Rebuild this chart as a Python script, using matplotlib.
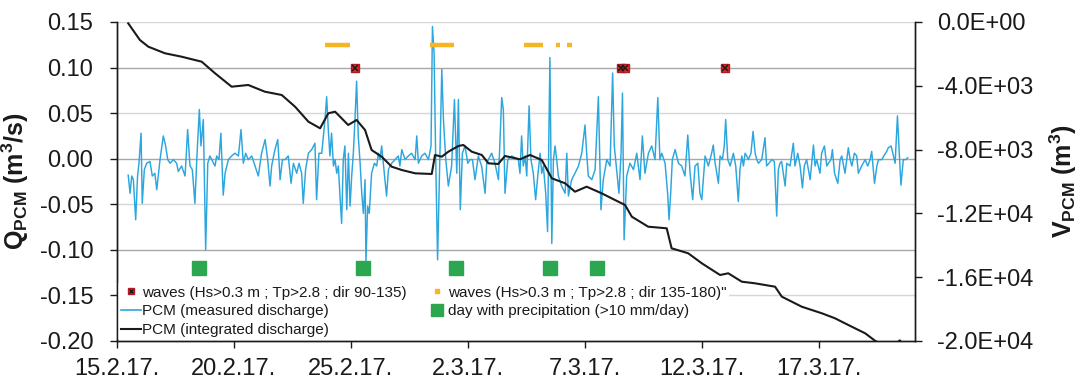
import matplotlib
matplotlib.use('Agg')
import matplotlib.pyplot as plt
from matplotlib.lines import Line2D
from matplotlib.ticker import FuncFormatter, FormatStrFormatter

plt.rcParams['font.family'] = 'Liberation Sans'
plt.rcParams['mathtext.fontset'] = 'custom'
plt.rcParams['mathtext.rm'] = 'Liberation Sans'
plt.rcParams['mathtext.it'] = 'Liberation Sans:italic'
plt.rcParams['mathtext.bf'] = 'Liberation Sans:bold'

# x axis: days since 15.2.2017
tick_days = [0, 5, 10, 15, 20, 25, 30]
tick_labels = ['15.2.17.', '20.2.17.', '25.2.17.', '2.3.17.', '7.3.17.', '12.3.17.', '17.3.17.']

# PCM measured discharge (m3/s)
q_days = [
    0.48, 0.56, 0.63, 0.70, 0.80, 0.88, 0.94, 1.03, 1.08, 1.17,
    1.27, 1.41, 1.51, 1.62, 1.70, 1.84, 1.98, 2.08, 2.17, 2.27,
    2.41, 2.55, 2.62, 2.76, 2.91, 3.02, 3.12, 3.22, 3.33, 3.41,
    3.52, 3.59, 3.69, 3.79, 3.88, 3.97, 4.05, 4.19, 4.26, 4.36,
    4.44, 4.54, 4.62, 4.76, 4.90, 5.04, 5.19, 5.30, 5.40, 5.50,
    5.61, 5.76, 5.90, 6.04, 6.18, 6.33, 6.44, 6.54, 6.61, 6.75,
    6.87, 6.97, 7.07, 7.18, 7.32, 7.44, 7.54, 7.68, 7.78, 7.89,
    7.96, 8.06, 8.18, 8.32, 8.46, 8.53, 8.63,
    8.75, 8.82, 8.89, 8.96, 9.03, 9.10, 9.17, 9.25, 9.32, 9.39,
    9.46, 9.53, 9.60, 9.67, 9.74, 9.82, 9.89, 9.96, 10.03, 10.10,
    10.17, 10.24, 10.31, 10.39, 10.46, 10.53, 10.60, 10.64, 10.71, 10.78,
    10.88, 11.00, 11.10, 11.17, 11.24, 11.31, 11.38, 11.45, 11.52, 11.60,
    11.67, 11.74, 11.88, 12.02, 12.09, 12.17, 12.31, 12.45, 12.59, 12.74,
    12.81, 12.88, 13.02, 13.16, 13.31, 13.42, 13.48, 13.55, 13.62, 13.70,
    13.80, 13.88, 13.95, 14.05, 14.16, 14.30, 14.42, 14.52, 14.59, 14.67,
    14.76, 14.87, 14.99, 15.09, 15.19, 15.30, 15.44, 15.58, 15.73, 15.80,
    15.87, 16.01, 16.15, 16.30, 16.44, 16.51, 16.58, 16.70, 16.87, 17.01,
    17.15,
    17.22, 17.29, 17.36, 17.44, 17.51, 17.61, 17.69, 17.79, 17.89, 17.98,
    18.08, 18.15, 18.22, 18.32, 18.40, 18.50, 18.58, 18.65, 18.72, 18.79,
    18.86, 19.00, 19.15, 19.22, 19.29, 19.43, 19.57, 19.72, 19.86, 20.00,
    20.07, 20.14, 20.29, 20.43, 20.57, 20.68, 20.78, 20.93, 21.07, 21.18,
    21.25, 21.35, 21.45, 21.54, 21.60, 21.67, 21.78, 21.92, 22.07, 22.21,
    22.35, 22.45, 22.56, 22.71, 22.85, 22.99, 23.11, 23.20, 23.28, 23.42,
    23.53, 23.59, 23.66, 23.73, 23.85, 23.99, 24.13, 24.27, 24.39, 24.49,
    24.60, 24.70, 24.82, 24.91, 24.99, 25.13, 25.27, 25.41, 25.48, 25.56,
    25.70,
    25.77, 25.87, 25.95, 26.01, 26.10, 26.20, 26.27, 26.34, 26.44, 26.55,
    26.62, 26.70, 26.77, 26.84, 26.91, 26.98, 27.09, 27.18, 27.27, 27.34,
    27.41, 27.55, 27.69, 27.76, 27.86, 27.98, 28.09, 28.19, 28.26, 28.33,
    28.40, 28.55, 28.62, 28.76, 28.90, 28.97, 29.09, 29.19, 29.29, 29.37,
    29.47, 29.62, 29.76, 29.83, 29.90, 30.04, 30.11, 30.23, 30.33, 30.40,
    30.51, 30.57, 30.66, 30.80, 30.90, 30.97, 31.11, 31.25, 31.33, 31.40,
    31.51, 31.61, 31.68, 31.82, 31.97, 32.08, 32.18, 32.25, 32.37, 32.47,
    32.54, 32.68, 32.79, 32.89, 32.96, 33.08, 33.18, 33.25, 33.35, 33.42,
    33.50, 33.60, 33.70, 33.79,
]
q_values = [
    -0.018, -0.038, -0.019, -0.023, -0.067, -0.019, -0.005, 0.028, -0.049, -0.012,
    -0.005, -0.003, -0.019, -0.016, -0.034, -0.001, 0.025, 0.014, -0.001, -0.005,
    -0.001, -0.005, -0.014, -0.008, -0.019, 0.032, -0.008, -0.012, -0.049, -0.001,
    0.054, 0.014, 0.043, -0.100, -0.005, 0.003, -0.001, -0.008, 0.003, -0.001,
    0.028, -0.040, -0.016, -0.001, 0.003, 0.006, 0.003, 0.032, -0.005, 0.006,
    -0.001, 0.003, -0.008, -0.019, 0.006, 0.021, -0.001, -0.030, -0.008, 0.010,
    0.021, -0.023, -0.001, -0.001, 0.003, -0.027, -0.005, -0.016, -0.005, -0.016,
    -0.049, -0.012, 0.006, 0.010, 0.017, -0.045, 0.006,
    0.006, 0.025, 0.043, 0.068, 0.032, 0.003, 0.028, -0.008, -0.001, -0.016,
    -0.008, -0.041, -0.071, -0.001, 0.014, -0.056, 0.006, -0.052, -0.019, 0.006,
    0.043, 0.085, 0.025, -0.005, -0.038, -0.060, -0.023, -0.113, -0.052, -0.060,
    -0.016, -0.005, -0.008, 0.006, -0.001, 0.014, -0.005, -0.023, -0.041, -0.012,
    -0.008, -0.005, -0.001, 0.003, -0.008, 0.010, -0.001, 0.003, 0.006, -0.001,
    0.025, -0.005, 0.003, 0.006, -0.001, 0.014, 0.145, 0.116, -0.001, -0.111,
    0.006, 0.098, 0.043, -0.001, -0.030, -0.008, 0.065, -0.016, 0.065, -0.056,
    0.006, 0.014, -0.005, -0.001, -0.001, -0.023, 0.003, -0.008, -0.038, -0.005,
    -0.001, 0.006, -0.005, -0.023, 0.067, 0.054, -0.038, -0.001, 0.003, 0.001,
    -0.001,
    -0.016, 0.025, -0.008, 0.003, -0.019, 0.058, -0.001, -0.016, -0.045, -0.019,
    0.006, -0.016, -0.008, -0.038, -0.080, 0.111, -0.093, -0.001, 0.014, -0.001,
    -0.019, -0.030, -0.038, 0.006, -0.041, -0.023, -0.016, -0.008, 0.006, 0.037,
    0.006, -0.019, -0.023, -0.012, 0.068, -0.056, -0.023, -0.001, -0.008, 0.094,
    0.014, -0.012, -0.038, 0.006, 0.072, -0.089, -0.019, -0.005, -0.012, 0.006,
    -0.023, 0.025, -0.016, 0.006, 0.014, -0.001, 0.067, -0.001, 0.006, -0.005,
    -0.038, -0.067, -0.038, -0.001, 0.010, -0.005, -0.008, -0.019, 0.026, -0.016,
    -0.045, -0.008, -0.005, -0.038, -0.045, 0.003, -0.008, 0.006, 0.015, -0.005,
    -0.027,
    0.003, -0.001, 0.014, 0.043, -0.001, -0.008, -0.001, 0.006, -0.008, -0.047,
    -0.012, 0.003, -0.008, 0.006, 0.003, -0.001, 0.006, 0.030, 0.006, -0.001,
    -0.005, -0.001, 0.023, -0.008, -0.005, -0.001, -0.003, -0.063, -0.012, -0.005,
    -0.003, -0.030, -0.005, -0.008, 0.017, -0.008, 0.006, -0.008, -0.032, -0.008,
    -0.001, -0.023, 0.015, -0.008, -0.001, -0.016, 0.006, 0.014, -0.008, -0.005,
    -0.001, 0.010, -0.016, -0.027, -0.001, 0.003, -0.016, 0.012, -0.001, -0.008,
    0.006, 0.003, -0.016, -0.008, -0.001, -0.008, -0.001, 0.008, -0.027, -0.008,
    -0.001, -0.001, 0.004, 0.008, 0.012, 0.014, 0.003, -0.005, 0.047, 0.010,
    -0.029, -0.001, -0.001, 0.001,
]

# PCM integrated discharge (m3)
v_days = [0.48, 0.98, 1.34, 2.05, 2.76, 3.62, 4.19, 4.90, 5.61, 6.32,
          7.04, 7.61, 8.18, 8.68, 9.03, 9.32, 9.60, 9.88, 10.24, 10.60,
          10.88, 11.31, 11.74, 12.17, 12.74, 13.45, 13.59, 13.88, 14.16, 14.59,
          14.80, 15.16, 15.59, 15.87, 16.29, 16.58, 17.22, 17.65, 18.15, 18.58,
          19.15, 19.57, 20.07, 20.71, 21.28, 21.71, 22.00, 22.70, 23.49, 23.70,
          24.41, 24.99, 25.77, 26.12, 26.70, 27.26, 28.12, 28.41, 29.26, 30.12,
          30.68, 31.25, 31.97, 32.39, 32.90, 33.38, 33.45, 33.55]
v_values = [-82, -1129, -1549, -1962, -2176, -2489, -3216, -4057, -3950, -4370,
            -4577, -5311, -6251, -6665, -5724, -5624, -6038, -6458, -6145, -6772,
            -8025, -8446, -9073, -9280, -9487, -9530, -8339, -8446, -8132, -7775,
            -7712, -8132, -8339, -8860, -8903, -8402, -8609, -8339, -8653, -9800,
            -10114, -10640, -10327, -10741, -11161, -11474, -12208, -12835, -12935, -14189,
            -14502, -15129, -15863, -15756, -16283, -16383, -16596, -17223, -17850, -18264,
            -18577, -18997, -19518, -19982, -20400, -20050, -19960, -20150]

# events
waves_se_days = [10.17, 21.55, 21.70, 25.98]          # dir 90-135
waves_s_start = [8.89, 13.38, 17.41, 18.76, 19.22]    # dir 135-180
waves_s_end = [9.96, 14.40, 18.22, 18.93, 19.43]
precip_days = [3.5, 10.5, 14.5, 18.5, 20.5]

blue = '#2ba6df'
red = '#e3262b'
orange = '#f6b623'
green = '#2ca64f'

fig = plt.figure(figsize=(10.78, 3.83), dpi=100)
ax1 = fig.add_axes([0.1085, 0.1097, 0.7403, 0.8329])
ax2 = ax1.twinx()

# horizontal grid
for i, yv in enumerate([-0.15, -0.10, -0.05, 0.0, 0.05, 0.10, 0.15]):
    ax1.axhline(yv, color='#a8a8a8' if i % 2 else '#d6d6d6', lw=1.0, zorder=0)

ax1.plot(q_days, q_values, color=blue, lw=1.05, zorder=2)

ax1.plot(waves_se_days, [0.10] * len(waves_se_days), ls='', marker='s', ms=5.5,
         mfc=red, mec='#b01c20', zorder=4)
ax1.plot(waves_se_days, [0.10] * len(waves_se_days), ls='', marker='x', ms=4,
         mec='#1a1a1a', mew=1.1, zorder=5)
for s, e in zip(waves_s_start, waves_s_end):
    ax1.plot([s, e], [0.125, 0.125], color=orange, lw=3.2, solid_capstyle='butt', zorder=4)
ax1.plot(precip_days, [-0.12] * len(precip_days), ls='', marker='s', ms=9.5,
         color=green, zorder=4)

ax2.plot(v_days, v_values, color='#1a1a1a', lw=1.5)

ax1.set_xlim(0, 34.1)
ax1.set_ylim(-0.20, 0.15)
ax2.set_ylim(-20000, 0)
ax1.set_xticks(tick_days)
ax1.set_xticklabels(tick_labels)
ax1.set_yticks([-0.20, -0.15, -0.10, -0.05, 0.0, 0.05, 0.10, 0.15])
ax1.yaxis.set_major_formatter(FormatStrFormatter('%.2f'))
ax2.set_yticks([-20000, -16000, -12000, -8000, -4000, 0])
ax2.yaxis.set_major_formatter(FuncFormatter(lambda v, p: f'{v:.1E}'))

for ax in (ax1, ax2):
    ax.spines['top'].set_visible(False)
    for sp in ax.spines.values():
        sp.set_color('#1a1a1a')
        sp.set_linewidth(1.0)
ax1.tick_params(axis='x', labelsize=17, length=5, width=1, direction='out', pad=7, colors='#1a1a1a')
ax1.tick_params(axis='y', labelsize=17, length=5, width=1, direction='out', pad=12, colors='#1a1a1a')
ax2.tick_params(axis='y', labelsize=17, length=5, width=1, direction='out', pad=11, colors='#1a1a1a')

ax1.set_ylabel(r'$\mathbf{Q_{PCM}\ (m^3/s)}$', fontsize=18, color='#1a1a1a', labelpad=6)
ax2.set_ylabel(r'$\mathbf{V_{PCM}\ (m^3)}$', fontsize=18, color='#1a1a1a', labelpad=10)

h_red = (Line2D([], [], ls='', marker='s', ms=5, mfc=red, mec='#b01c20'),
         Line2D([], [], ls='', marker='x', ms=3.5, mec='#1a1a1a', mew=1))
h_blue = Line2D([], [], color=blue, lw=1.2)
h_black = Line2D([], [], color='#1a1a1a', lw=1.5)
h_orange = Line2D([], [], ls='', marker='s', ms=3.5, color=orange)
h_green = Line2D([], [], ls='', marker='s', ms=9, color=green)
leg = ax1.legend([h_red, h_blue, h_black, h_orange, h_green],
                 ['waves (Hs>0.3 m ; Tp>2.8 ; dir 90-135)',
                  'PCM (measured discharge)',
                  'PCM (integrated discharge)',
                  'waves (Hs>0.3 m ; Tp>2.8 ; dir 135-180)"',
                  'day with precipitation (>10 mm/day)'],
                 ncol=2, loc='lower left', bbox_to_anchor=(0.0, 0.0),
                 fontsize=11, frameon=True, fancybox=False, framealpha=1,
                 facecolor='white', edgecolor='none', borderaxespad=0.1,
                 borderpad=0.15, labelspacing=0.31, handlelength=1.3,
                 handletextpad=0.1, columnspacing=1.3)
for t in leg.get_texts():
    t.set_color('#1a1a1a')

fig.savefig('out.png', dpi=100)
